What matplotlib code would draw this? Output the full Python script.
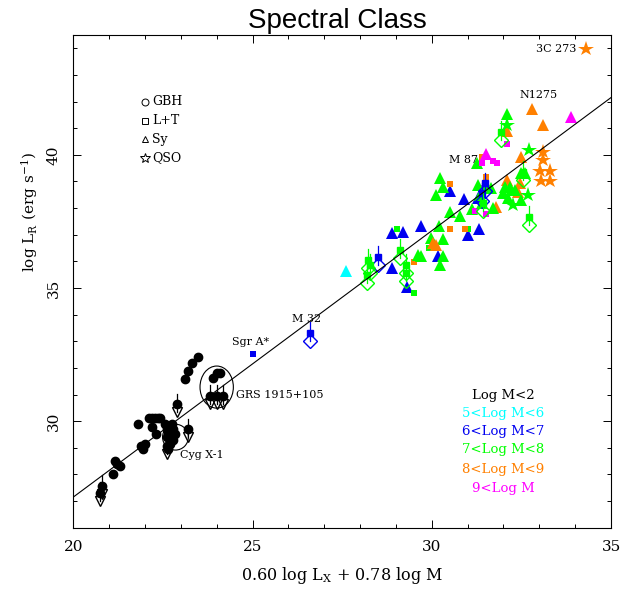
import matplotlib
matplotlib.use("Agg")
import matplotlib.pyplot as plt
from matplotlib.patches import Ellipse
import numpy as np

plt.rcParams['font.family'] = ['DejaVu Serif']
plt.rcParams['mathtext.fontset'] = 'dejavuserif'

# ---------------- data ----------------
# Galactic black holes (GBH) - detections
gbh_x = [23.11, 23.19, 23.30, 23.48, 23.91, 24.00, 24.09,
         22.10, 22.19, 22.27, 22.35, 22.43, 21.81, 22.19, 22.31,
         22.56, 22.60, 22.65, 22.70, 22.74, 22.79, 22.84, 22.70, 22.65, 22.79, 22.60, 22.75, 22.68,
         21.90, 21.95, 22.00, 21.16, 21.21, 21.30, 21.12]
gbh_y = [31.60, 31.87, 32.19, 32.41, 31.63, 31.81, 31.81,
         30.12, 30.12, 30.12, 30.12, 30.12, 29.91, 29.79, 29.50,
         29.88, 29.69, 29.50, 29.31, 29.88, 29.69, 29.50, 29.13, 28.94, 29.31, 29.40, 29.60, 29.75,
         29.06, 28.94, 29.13, 28.50, 28.38, 28.31, 28.00]
# GBH upper limits
gbh_ul_x = [23.81, 24.00, 24.18, 22.88, 23.21, 20.79, 20.74, 22.60]
gbh_ul_y = [30.94, 30.94, 30.94, 30.63, 29.69, 27.57, 27.32, 29.06]

# AGN: x, y, class (S=Sy triangle, L=L+T square, Q=QSO star), mass bin colour key
agn_x = [27.60,
         28.90, 29.31, 28.90, 29.20, 29.70, 30.18, 30.50, 30.90, 31.00, 31.31, 31.29,
         29.50, 29.02, 29.93, 31.01,
         29.51, 30.50, 30.92, 30.50, 31.39, 31.51,
         29.62, 29.71, 30.32, 30.22, 29.99, 30.30, 30.20, 30.50, 30.80, 30.11, 30.32, 30.22, 31.11, 31.27,
         30.04, 30.13, 31.80, 32.10, 32.45, 32.41, 32.50, 33.10, 32.80, 32.10,
         31.20, 31.51, 31.39, 31.41, 31.71, 31.82, 32.10,
         31.51, 33.89,
         31.29, 31.52, 31.66, 31.71, 31.40, 31.35,
         32.04, 32.17, 32.31, 31.99, 32.22, 32.13, 32.50, 32.50, 32.59,
         32.69, 32.27, 32.71, 32.10,
         32.10,
         33.10, 33.10, 33.01, 33.29, 33.06, 33.31, 34.29,
         25.00]
agn_y = [35.62,
         35.75, 35.05, 37.05, 37.12, 37.33, 36.21, 38.65, 38.35, 36.99, 37.22, 38.37,
         34.80, 37.20, 36.49, 37.22,
         35.99, 37.20, 37.20, 38.92, 39.92, 39.18,
         36.24, 36.21, 36.21, 35.87, 36.87, 36.83, 37.34, 37.87, 37.70, 38.49, 38.80, 39.12, 37.95, 39.70,
         36.68, 36.62, 38.03, 39.05, 38.93, 38.61, 39.93, 41.11, 41.72, 40.90,
         37.90, 37.78, 38.76, 39.70, 39.78, 39.70, 40.40,
         40.03, 41.42,
         38.87, 38.87, 38.74, 37.99, 38.20, 38.50,
         38.80, 38.80, 38.68, 38.55, 38.68, 38.37, 38.30, 39.30, 39.30,
         38.49, 38.12, 40.18, 41.11,
         41.52,
         40.11, 39.80, 39.40, 39.40, 39.03, 39.03, 43.96,
         32.52]
agn_cls = (['S'] +
           ['S'] * 11 +
           ['L'] * 4 +
           ['L'] * 6 +
           ['S'] * 14 +
           ['S'] * 10 +
           ['L'] * 7 +
           ['S'] * 2 +
           ['S'] * 6 +
           ['S'] * 9 +
           ['Q'] * 4 +
           ['S'] +
           ['Q'] * 7 +
           ['L'])
agn_bin = ([5] +
           [6] * 11 +
           [7] * 4 +
           [8] * 6 +
           [7] * 14 +
           [8] * 10 +
           [9] * 7 +
           [9] * 2 +
           [7] * 6 +
           [7] * 9 +
           [7] * 4 +
           [7] +
           [8] * 7 +
           [6])

# AGN upper limits: x, y, mass bin
ul_x = [28.18, 28.27, 28.22, 28.50, 29.29, 29.29, 29.11, 31.94, 31.43, 32.71, 32.55, 31.39, 31.48, 26.60]
ul_y = [35.50, 35.87, 36.06, 36.18, 35.87, 35.55, 36.43, 40.86, 38.18, 37.68, 39.36, 38.55, 38.93, 33.31]
ul_bin = [7, 7, 7, 6, 7, 7, 7, 7, 7, 7, 7, 6, 6, 6]

# best-fit relation
fit_slope = 1.0
fit_icept = 7.15

bin_colors = {2: 'black', 5: '#00ffff', 6: '#0000f0', 7: '#00ff00', 8: '#ff8000', 9: '#ff00ff'}
bin_labels = ['Log M<2', '5<Log M<6', '6<Log M<7', '7<Log M<8', '8<Log M<9', '9<Log M']
bin_keys = [2, 5, 6, 7, 8, 9]
cls_marker = {'S': '^', 'L': 's', 'Q': '*'}
cls_size = {'S': 8.0, 'L': 5.0, 'Q': 11.5}

annotations = [('3C 273', 34.04, 43.96, 'right'), ('N1275', 32.99, 42.24, 'center'),
               ('M 87', 30.89, 39.80, 'center'), ('M 32', 26.50, 33.85, 'center'),
               ('Sgr A*', 24.95, 32.97, 'center'), ('GRS 1915+105', 24.54, 31.00, 'left'),
               ('Cyg X-1', 22.97, 28.72, 'left')]

# ---------------- figure ----------------
fig = plt.figure(figsize=(6.29, 5.96), dpi=100)
ax = fig.add_axes([73.3 / 629, 1 - 527.7 / 596, (611 - 73.3) / 629, (527.7 - 35) / 596])
ax.set_xlim(20, 35)
ax.set_ylim(26.0, 44.5)

# fit line
xx = np.array([20, 35])
ax.plot(xx, fit_slope * xx + fit_icept, color='black', lw=0.8, zorder=5)

# GBH
ax.plot(gbh_x, gbh_y, 'o', color='black', ms=6, mec='black', zorder=3)


def draw_ul(x, y, color, head):
    for xi, yi in zip(x, y):
        ax.plot([xi, xi], [yi + 0.4, yi - 0.3], color=color, lw=0.9, zorder=3)
    ax.plot(x, y, 'o' if head == 'v' else 's', color=color, ms=6 if head == 'v' else 4.5, zorder=3)
    hy = [yi - 0.3 for yi in y]
    ax.plot(x, hy, head, mfc='none', mec=color, ms=6.5 if head == 'v' else 7.5, mew=1.0, zorder=3)


draw_ul(gbh_ul_x, gbh_ul_y, 'black', 'v')

for xi, yi, c, b in zip(agn_x, agn_y, agn_cls, agn_bin):
    ax.plot(xi, yi, cls_marker[c], color=bin_colors[b], ms=cls_size[c], mew=0, zorder=3)

for b in set(ul_bin):
    xs = [x for x, bb in zip(ul_x, ul_bin) if bb == b]
    ys = [y for y, bb in zip(ul_y, ul_bin) if bb == b]
    draw_ul(xs, ys, bin_colors[b], 'D')

# circles
ax.add_patch(Ellipse((24.0, 31.28), 0.93, 1.58, fill=False, ec='black', lw=0.8, zorder=4))
ax.add_patch(Ellipse((22.85, 29.40), 0.72, 0.97, fill=False, ec='black', lw=0.8, zorder=2))

for txt, x, y, ha in annotations:
    ax.text(x, y, txt, ha=ha, va='center', fontsize=8, zorder=6)

# symbol legend (top left)
sym_labels = ['GBH', 'L+T', 'Sy', 'QSO']
sym_markers = ['o', 's', '^', '*']
sym_ypix = [101.7, 120.5, 139.3, 157.5]
for lab, m, yp in zip(sym_labels, sym_markers, sym_ypix):
    fy = 1 - yp / 596
    fig.lines.append(plt.Line2D([145 / 629], [fy], marker=m, mfc='none', mec='black',
                                ms=5 if m != '*' else 7, mew=0.7, transform=fig.transFigure))
    fig.text(152 / 629, fy, lab, ha='left', va='center', fontsize=9)

# mass legend (lower right)
mass_ypix = [395, 413, 431.7, 450, 469, 488.3]
for lab, k, yp in zip(bin_labels, bin_keys, mass_ypix):
    fig.text(503 / 629, 1 - yp / 596, lab, ha='center', va='center', fontsize=9.5,
             color=bin_colors[k])

# axes styling
ax.xaxis.set_major_locator(matplotlib.ticker.MultipleLocator(5))
ax.xaxis.set_minor_locator(matplotlib.ticker.MultipleLocator(1))
ax.yaxis.set_major_locator(matplotlib.ticker.MultipleLocator(5))
ax.yaxis.set_minor_locator(matplotlib.ticker.MultipleLocator(1))
ax.tick_params(which='both', direction='in', top=True, right=True, width=0.7, labelsize=11)
ax.tick_params(which='major', length=6)
ax.tick_params(which='minor', length=3)
ax.tick_params(axis='x', pad=9)
ax.tick_params(axis='y', pad=9)
for lab in ax.get_yticklabels():
    lab.set_rotation(90)
    lab.set_va('center')
for s in ax.spines.values():
    s.set_linewidth(0.8)

fig.text(342 / 629, 1 - 575 / 596, r'0.60 log L$_{\rm X}$ + 0.78 log M', ha='center', va='center', fontsize=11.5)
fig.text(30 / 629, 1 - 212 / 596, r'log L$_{\rm R}$ (erg s$^{-1}$)', ha='center', va='center',
         rotation=90, fontsize=11)
fig.text(337 / 629, 1 - 21 / 596, 'Spectral Class', ha='center', va='center', fontsize=20,
         family=['Liberation Sans', 'DejaVu Sans'], fontstretch='condensed')

fig.savefig('out.png', dpi=100)
